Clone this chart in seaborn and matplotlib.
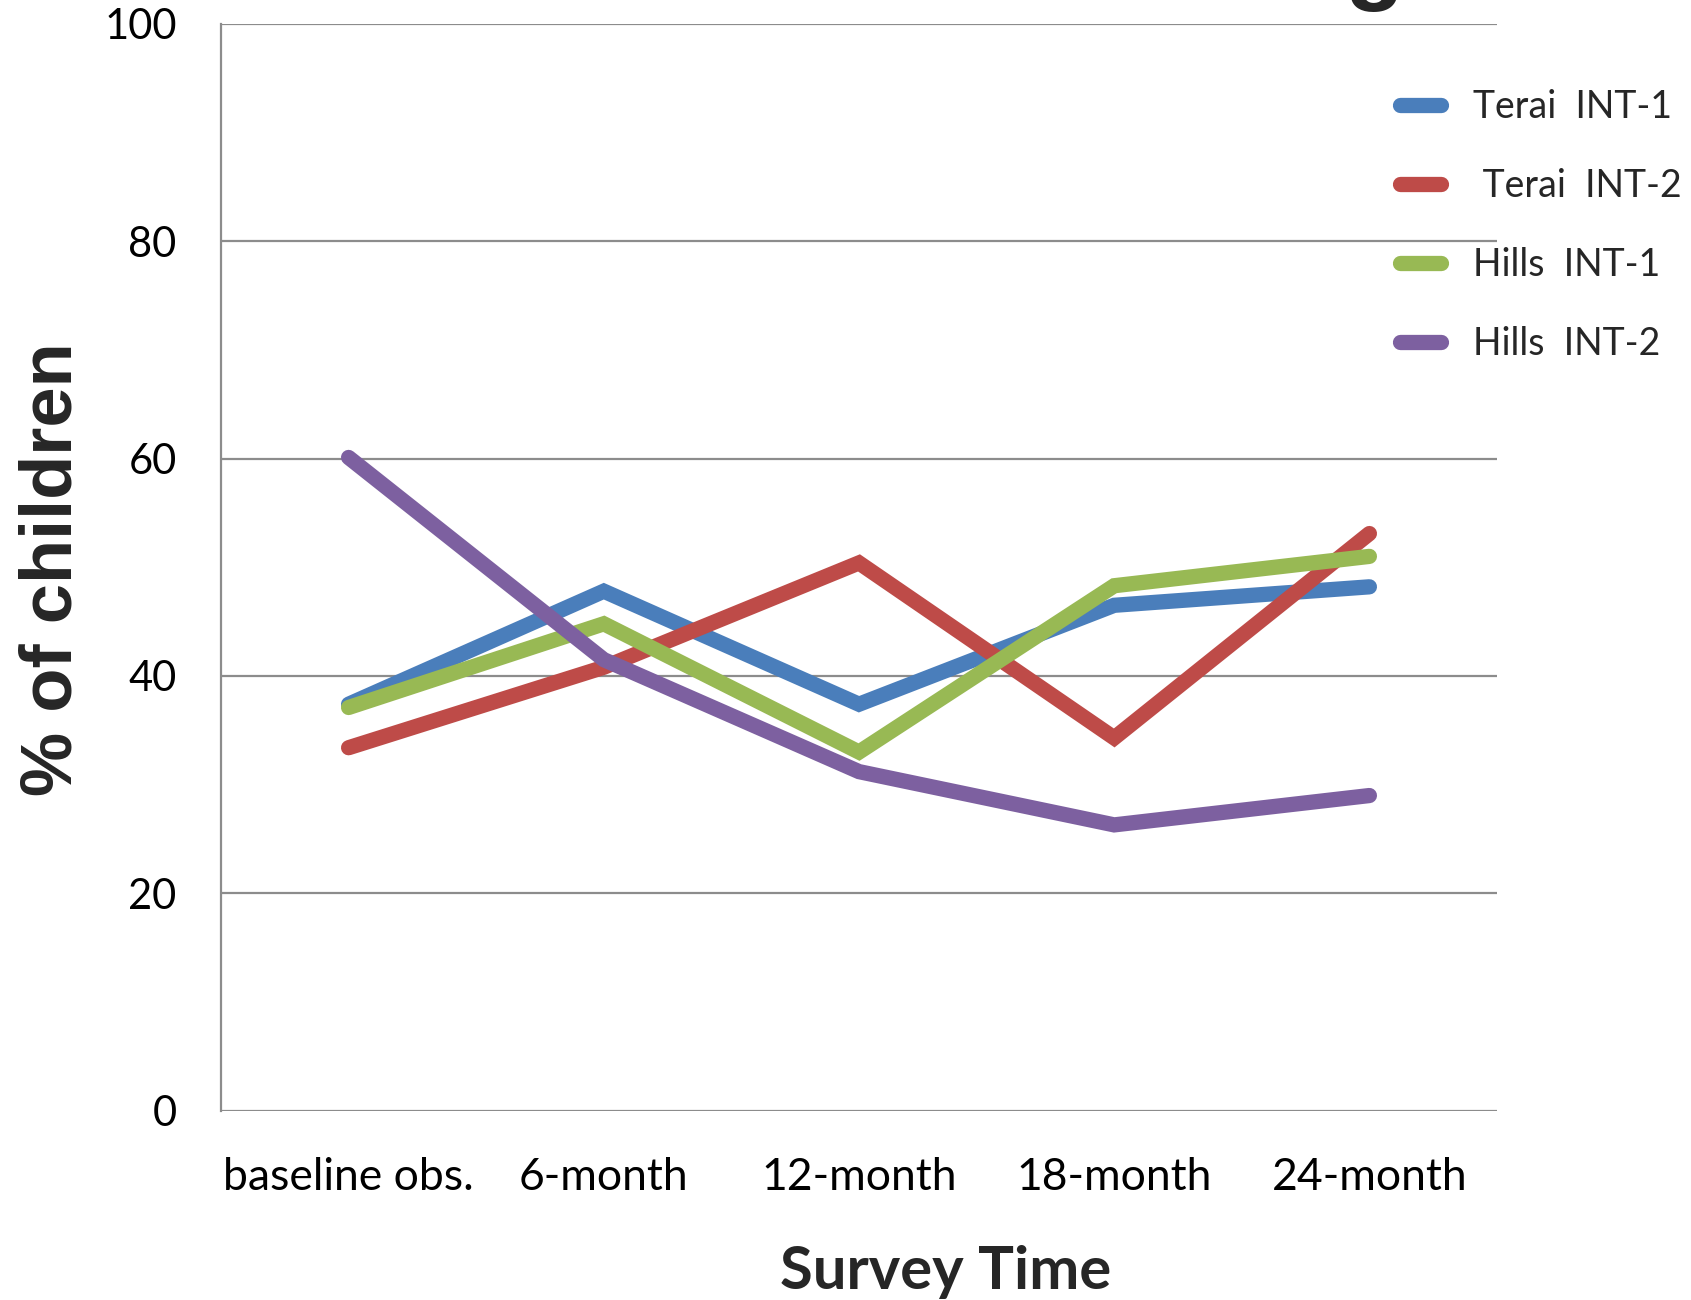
import matplotlib
matplotlib.use("Agg")
import matplotlib.pyplot as plt
import seaborn as sns
import pandas as pd

# Survey rounds and series values (% of children)
survey_times = ["baseline obs.", "6-month", "12-month", "18-month", "24-month"]
series_names = ["Terai  INT-1", " Terai  INT-2", "Hills  INT-1", "Hills  INT-2"]
terai_int1 = [37.4, 47.8, 37.4, 46.5, 48.2]
terai_int2 = [33.4, 40.8, 50.4, 34.3, 53.1]
hills_int1 = [37.1, 44.8, 33.0, 48.3, 51.0]
hills_int2 = [60.1, 41.5, 31.2, 26.3, 29.0]
y_ticks = [0, 20, 40, 60, 80, 100]

colors = ["#4A7EBB", "#BE4B48", "#98B954", "#7D60A0"]

rows = []
for name, vals in zip(series_names, [terai_int1, terai_int2, hills_int1, hills_int2]):
    for t, v in zip(survey_times, vals):
        rows.append({"Survey Time": t, "pct": v, "series": name})
df = pd.DataFrame(rows)

sns.set_theme(style="white")
plt.rcParams["font.family"] = ["Lato", "DejaVu Sans"]

fig = plt.figure(figsize=(16.91, 13.0), dpi=100)
ax = fig.add_axes([221 / 1691, 1 - 1110.8 / 1300, (1497 - 221) / 1691, (1110.8 - 23.7) / 1300])

sns.lineplot(data=df, x="Survey Time", y="pct", hue="series", hue_order=series_names,
             palette=colors, sort=False, linewidth=11, ax=ax, legend=True)
for ln in ax.get_lines():
    ln.set_solid_capstyle("round")
    ln.set_solid_joinstyle("miter")

ax.set_xlim(-0.5, 4.5)
ax.set_ylim(0, 100)
ax.set_yticks(y_ticks)
ax.yaxis.grid(True, color="#8C8C8C", linewidth=1.6)
ax.set_axisbelow(True)
for side in ["top", "right", "bottom"]:
    ax.spines[side].set_visible(False)
ax.spines["left"].set_color("#8C8C8C")
ax.spines["left"].set_linewidth(1.6)
ax.tick_params(axis="y", length=0, pad=32, labelsize=30, labelcolor="black")
ax.tick_params(axis="x", length=0, pad=33, labelsize=32, labelcolor="black")

ax.set_ylabel("")
ax.set_xlabel("")
fig.text(53 / 1691, 1 - 569 / 1300, "% of children", rotation=90, ha="center", va="center",
         fontsize=52, fontweight="bold", family=["Liberation Sans", "DejaVu Sans"])
fig.text(946 / 1691, 1 - 1289 / 1300, "Survey Time", ha="center", va="baseline",
         fontsize=43, fontweight="bold")

# Title descender peeking in at the top edge
fig.text(1375 / 1691, 1 + 8 / 1300, "g", ha="center", va="baseline",
         fontsize=70, fontweight="bold", family=["Liberation Sans", "DejaVu Sans"])

handles, labels = ax.get_legend_handles_labels()
for h in handles:
    h.set_linewidth(11)
    h.set_solid_capstyle("round")
ax.legend(handles, labels, loc="upper left", bbox_to_anchor=(1400 / 1691, 1 - 89 / 1300),
          bbox_transform=fig.transFigure, frameon=False, fontsize=27,
          handlelength=1.1, handletextpad=0.85, labelspacing=1.15, borderpad=0,
          borderaxespad=0)

fig.savefig("out.png", dpi=100)
